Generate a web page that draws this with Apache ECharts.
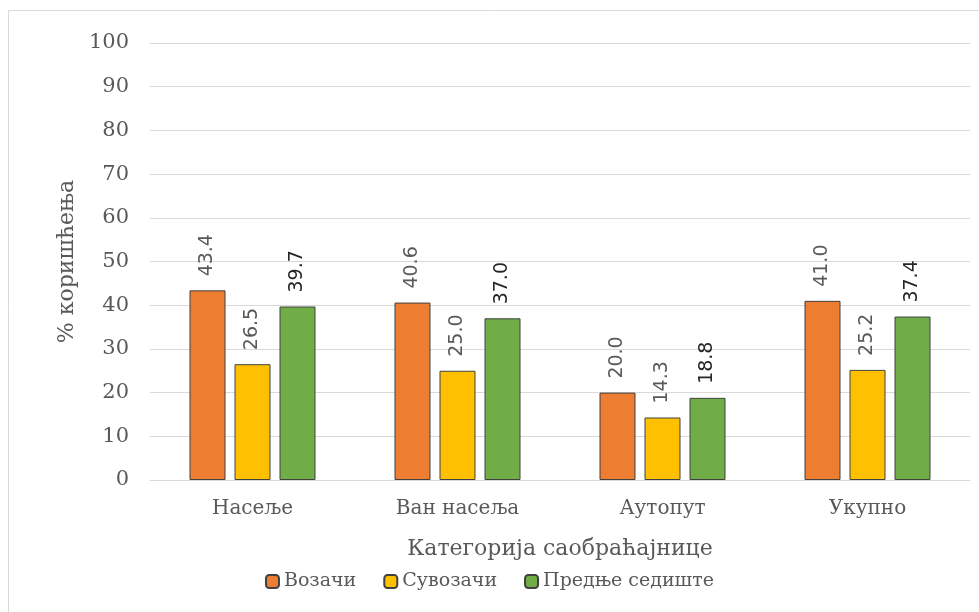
<!DOCTYPE html>
<html>
<head>
<meta charset="utf-8">
<script src="https://cdn.jsdelivr.net/npm/echarts@6/dist/echarts.min.js"></script>
<style>html,body{margin:0;padding:0;background:#fff}#c{width:979px;height:612px}</style>
</head>
<body>
<div id="c"></div>
<script>
const categories = ['Насеље', 'Ван насеља', 'Аутопут', 'Укупно'];
const seriesNames = ['Возачи', 'Сувозачи', 'Предње седиште'];
const vozaci = [43.4, 40.6, 20.0, 41.0];
const suvozaci = [26.5, 25.0, 14.3, 25.2];
const prednje = [39.7, 37.0, 18.8, 37.4];
const colors = ['#ED7D31', '#FFC000', '#70AD47'];
const labelColors = ['#595959', '#595959', '#262626'];

const serif = 'DejaVu Serif';
const chart = echarts.init(document.getElementById('c'), null, {renderer: 'canvas'});
const dataSets = [vozaci, suvozaci, prednje];
chart.setOption({
  animation: false,
  graphic: [{
    type: 'rect', shape: {x: 8.5, y: 10.5, width: 980, height: 610},
    style: {fill: 'none', stroke: '#d9d9d9', lineWidth: 1}, silent: true
  }],
  grid: {left: 150, right: 9, top: 43, bottom: 132},
  legend: {
    bottom: 16, left: 'center',
    itemWidth: 13, itemHeight: 13, itemGap: 27,
    textStyle: {fontFamily: serif, fontSize: 19, color: '#595959', padding: [0, 0, 0, 0]},
    data: seriesNames
  },
  xAxis: {
    type: 'category', data: categories,
    name: 'Категорија саобраћајнице', nameLocation: 'middle', nameGap: 58,
    nameTextStyle: {fontFamily: serif, fontSize: 22, color: '#595959'},
    axisLine: {lineStyle: {color: '#d9d9d9', width: 1}},
    axisTick: {show: false},
    axisLabel: {fontFamily: serif, fontSize: 20, color: '#595959', margin: 19}
  },
  yAxis: {
    type: 'value', min: 0, max: 100, interval: 10,
    name: '% коришћења', nameLocation: 'middle', nameGap: 72,
    nameTextStyle: {fontFamily: serif, fontSize: 22, color: '#595959'},
    axisLine: {show: false}, axisTick: {show: false},
    splitLine: {lineStyle: {color: '#d9d9d9', width: 1}},
    axisLabel: {fontFamily: serif, fontSize: 21, color: '#595959', margin: 21}
  },
  series: dataSets.map((d, i) => ({
    name: seriesNames[i], type: 'bar', data: d,
    barWidth: 36, barGap: '25%',
    itemStyle: {color: colors[i], borderColor: '#404040', borderWidth: 1},
    label: {
      show: true, position: 'top', rotate: 90, distance: 14,
      align: 'left', verticalAlign: 'middle',
      fontFamily: 'DejaVu Sans', fontSize: 19, color: labelColors[i],
      formatter: p => p.value.toFixed(1)
    }
  }))
});
</script>
</body>
</html>
